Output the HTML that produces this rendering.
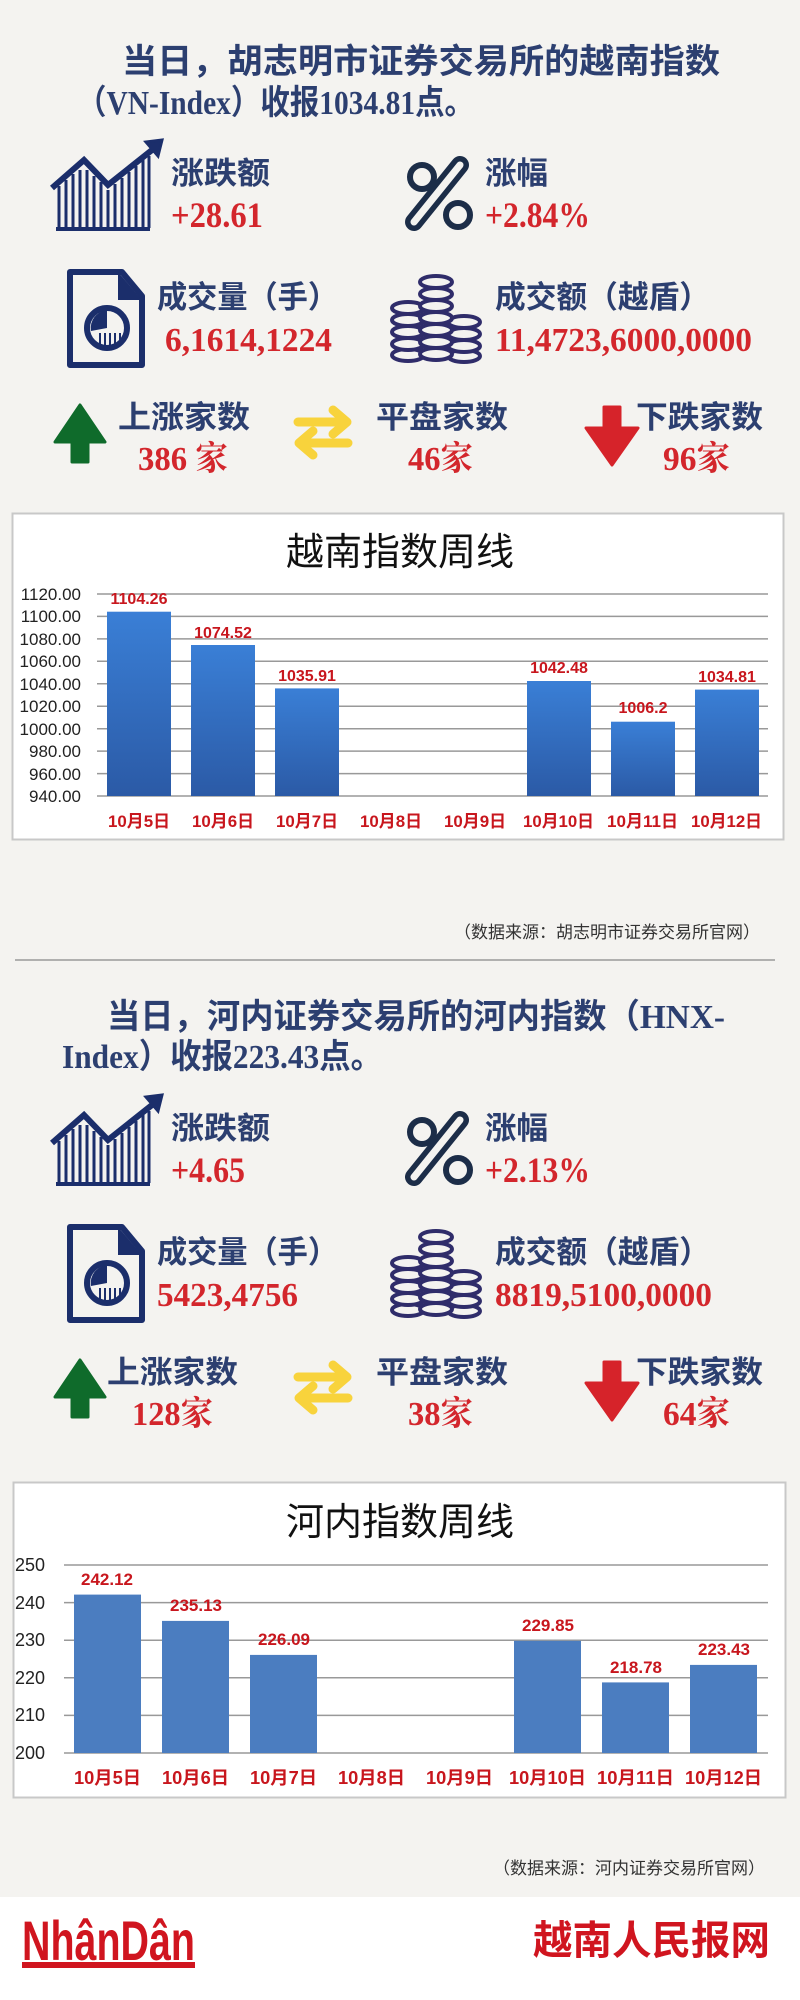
<!DOCTYPE html>
<html><head><meta charset="utf-8"><style>
html,body{margin:0;padding:0;background:#f4f3f0;}
svg{display:block}
.cn{font-family:"Liberation Sans","Noto Sans CJK SC",sans-serif;font-weight:bold;fill:#2c3f70}
.num{font-family:"Liberation Serif","Noto Serif CJK SC",serif;font-weight:bold;fill:#d3262c}
.ser{font-family:"Liberation Serif",serif;font-weight:bold}
.ax{font-family:"Liberation Sans","Noto Sans CJK SC",sans-serif;fill:#222}
.lab{font-family:"Liberation Sans","Noto Sans CJK SC",sans-serif;font-weight:bold;fill:#c8161d}
.src{font-family:"Liberation Sans","Noto Sans CJK SC",sans-serif;fill:#333}
</style></head><body>
<svg width="800" height="2000" viewBox="0 0 800 2000" xmlns="http://www.w3.org/2000/svg">
<defs>
<linearGradient id="bg1" x1="0" y1="0" x2="0" y2="1"><stop offset="0" stop-color="#3a7fd6"/><stop offset="1" stop-color="#2b5aa6"/></linearGradient>
<g id="icChart">
  <path d="M52 188 L84 160 L108 185 L152 150" fill="none" stroke="#1b2e6b" stroke-width="6" stroke-linejoin="miter"/>
  <path d="M146 142 L162 140 L158 156 Z" fill="#1b2e6b" stroke="#1b2e6b" stroke-width="3"/>
  <rect x="56" y="227" width="94" height="4" fill="#1b2e6b"/>
  <g stroke="#1b2e6b" stroke-width="3">
    <line x1="59" y1="186" x2="59" y2="228"/><line x1="66" y1="180" x2="66" y2="228"/><line x1="73" y1="174" x2="73" y2="228"/><line x1="80" y1="170" x2="80" y2="228"/><line x1="87" y1="170" x2="87" y2="228"/><line x1="94" y1="176" x2="94" y2="228"/><line x1="101" y1="182" x2="101" y2="228"/><line x1="108" y1="190" x2="108" y2="228"/><line x1="115" y1="184" x2="115" y2="228"/><line x1="122" y1="178" x2="122" y2="228"/><line x1="129" y1="172" x2="129" y2="228"/><line x1="136" y1="166" x2="136" y2="228"/><line x1="143" y1="160" x2="143" y2="228"/><line x1="149" y1="156" x2="149" y2="228"/>
  </g>
</g>
<g id="icPct" fill="none" stroke="#1c2d48" stroke-width="6">
  <circle cx="422" cy="177" r="12"/><circle cx="458" cy="215" r="12"/>
  <path d="M460 165 L414 222" stroke-width="18" stroke-linecap="round"/>
  <path d="M460 165 L414 222" stroke="#f4f3f0" stroke-width="7" stroke-linecap="round"/>
</g>
<g id="icDoc">
  <path d="M70 272 L122 272 L142 296 L142 365 L70 365 Z" fill="none" stroke="#1b2e6b" stroke-width="6" stroke-linejoin="round"/>
  <path d="M118 272 L118 300 L142 300 Z" fill="#1b2e6b"/>
  <circle cx="107" cy="328" r="20" fill="none" stroke="#1b2e6b" stroke-width="6"/>
  <path d="M107 328 L107 310 A18 18 0 0 0 91 331 Z" fill="#1b2e6b"/>
  <g stroke="#1b2e6b" stroke-width="2"><line x1="100" y1="333" x2="100" y2="346"/><line x1="105" y1="333" x2="105" y2="347"/><line x1="110" y1="333" x2="110" y2="347"/><line x1="115" y1="333" x2="115" y2="345"/><line x1="120" y1="333" x2="120" y2="340"/></g>
</g>
<g id="coin"><ellipse cx="0" cy="0" rx="16" ry="6" fill="#f4f3f0" stroke="#2f2c6a" stroke-width="4"/></g>
<g id="icCoins">
  <use href="#coin" x="408" y="355"/><use href="#coin" x="408" y="344"/><use href="#coin" x="408" y="332"/><use href="#coin" x="408" y="320"/><use href="#coin" x="408" y="308"/>
  <use href="#coin" x="464" y="356"/><use href="#coin" x="464" y="346"/><use href="#coin" x="464" y="334"/><use href="#coin" x="464" y="322"/>
  <use href="#coin" x="436" y="354"/><use href="#coin" x="436" y="342"/><use href="#coin" x="436" y="330"/><use href="#coin" x="436" y="318"/><use href="#coin" x="436" y="306"/><use href="#coin" x="436" y="294"/><use href="#coin" x="436" y="282"/>
</g>
<g id="icUp"><path d="M80 405 L105 442 L88 442 L88 462 L72 462 L72 442 L55 442 Z" fill="#0f6b2b" stroke="#0f6b2b" stroke-width="3" stroke-linejoin="round"/></g>
<g id="icSw" stroke="#f8d33c" stroke-width="9" fill="none" stroke-linecap="round" stroke-linejoin="round">
  <path d="M298 422 L345 422 M333 410 L347 422 L333 434"/><path d="M348 443 L301 443 M313 431 L299 443 L313 455"/>
</g>
<g id="icDn"><path d="M612 465 L638 428 L620 428 L620 407 L604 407 L604 428 L586 428 Z" fill="#d6232a" stroke="#d6232a" stroke-width="3" stroke-linejoin="round"/></g>
</defs>

<text class="cn" x="122" y="73" font-size="34" textLength="598" lengthAdjust="spacingAndGlyphs">当日，胡志明市证券交易所的越南指数</text>
<text class="cn" x="77" y="114" font-size="34" textLength="397" lengthAdjust="spacingAndGlyphs">（<tspan class="ser">VN-Index</tspan>）收报<tspan class="ser">1034.81</tspan>点。</text>

<use href="#icChart"/><use href="#icPct"/><use href="#icDoc"/><use href="#icCoins"/><use href="#icUp"/><use href="#icSw"/><use href="#icDn"/>
<text class="cn" x="171" y="184" font-size="31" textLength="99" lengthAdjust="spacingAndGlyphs">涨跌额</text>
<text class="num" x="171" y="227" font-size="36" textLength="92" lengthAdjust="spacingAndGlyphs">+28.61</text>
<text class="cn" x="485" y="184" font-size="31" textLength="63" lengthAdjust="spacingAndGlyphs">涨幅</text>
<text class="num" x="485" y="227" font-size="36" textLength="105" lengthAdjust="spacingAndGlyphs">+2.84%</text>
<text class="cn" x="157" y="308" font-size="31" textLength="181" lengthAdjust="spacingAndGlyphs">成交量（手）</text>
<text class="num" x="165" y="351" font-size="34" textLength="167" lengthAdjust="spacingAndGlyphs">6,1614,1224</text>
<text class="cn" x="495" y="308" font-size="31" textLength="215" lengthAdjust="spacingAndGlyphs">成交额（越盾）</text>
<text class="num" x="495" y="351" font-size="34" textLength="257" lengthAdjust="spacingAndGlyphs">11,4723,6000,0000</text>
<text class="cn" x="118" y="428" font-size="31" textLength="132" lengthAdjust="spacingAndGlyphs">上涨家数</text>
<text class="num" x="138" y="470" font-size="34" textLength="90" lengthAdjust="spacingAndGlyphs">386 家</text>
<text class="cn" x="376" y="428" font-size="31" textLength="132" lengthAdjust="spacingAndGlyphs">平盘家数</text>
<text class="num" x="408" y="470" font-size="34" textLength="65" lengthAdjust="spacingAndGlyphs">46家</text>
<text class="cn" x="636" y="428" font-size="31" textLength="127" lengthAdjust="spacingAndGlyphs">下跌家数</text>
<text class="num" x="663" y="470" font-size="34" textLength="67" lengthAdjust="spacingAndGlyphs">96家</text>

<rect x="12.5" y="513.5" width="771" height="326" fill="#fff" stroke="#c8c8c8" stroke-width="2"/>
<text x="400" y="565" text-anchor="middle" font-family="Liberation Sans,Noto Sans CJK SC,sans-serif" font-size="38" fill="#111">越南指数周线</text>
<g stroke="#999" stroke-width="1.5">
<line x1="97" y1="594" x2="768" y2="594"/><line x1="97" y1="616.4" x2="768" y2="616.4"/><line x1="97" y1="638.9" x2="768" y2="638.9"/><line x1="97" y1="661.3" x2="768" y2="661.3"/><line x1="97" y1="683.8" x2="768" y2="683.8"/><line x1="97" y1="706.2" x2="768" y2="706.2"/><line x1="97" y1="728.7" x2="768" y2="728.7"/><line x1="97" y1="751.1" x2="768" y2="751.1"/><line x1="97" y1="773.6" x2="768" y2="773.6"/><line x1="97" y1="796" x2="768" y2="796"/>
</g>
<g class="ax" font-size="17" text-anchor="end">
<text x="81" y="600">1120.00</text><text x="81" y="622">1100.00</text><text x="81" y="645">1080.00</text><text x="81" y="667">1060.00</text><text x="81" y="690">1040.00</text><text x="81" y="712">1020.00</text><text x="81" y="735">1000.00</text><text x="81" y="757">980.00</text><text x="81" y="780">960.00</text><text x="81" y="802">940.00</text>
</g>
<g fill="url(#bg1)">
<rect x="107" y="611.7" width="64" height="184.3"/><rect x="191" y="645" width="64" height="151"/><rect x="275" y="688.4" width="64" height="107.6"/>
<rect x="527" y="681" width="64" height="115"/><rect x="611" y="721.7" width="64" height="74.3"/><rect x="695" y="689.6" width="64" height="106.4"/>
</g>
<g class="lab" font-size="16" text-anchor="middle">
<text x="139" y="604">1104.26</text><text x="223" y="638">1074.52</text><text x="307" y="681">1035.91</text><text x="559" y="673">1042.48</text><text x="643" y="713">1006.2</text><text x="727" y="682">1034.81</text>
</g>
<g class="lab" font-size="17">
<text x="108" y="827" textLength="62" lengthAdjust="spacingAndGlyphs">10月5日</text><text x="192" y="827" textLength="62" lengthAdjust="spacingAndGlyphs">10月6日</text><text x="276" y="827" textLength="62" lengthAdjust="spacingAndGlyphs">10月7日</text><text x="360" y="827" textLength="62" lengthAdjust="spacingAndGlyphs">10月8日</text><text x="444" y="827" textLength="62" lengthAdjust="spacingAndGlyphs">10月9日</text><text x="523" y="827" textLength="71" lengthAdjust="spacingAndGlyphs">10月10日</text><text x="607" y="827" textLength="71" lengthAdjust="spacingAndGlyphs">10月11日</text><text x="691" y="827" textLength="71" lengthAdjust="spacingAndGlyphs">10月12日</text>
</g>
<text class="src" x="760" y="938" font-size="17" text-anchor="end">（数据来源：胡志明市证券交易所官网）</text>
<line x1="15" y1="960" x2="775" y2="960" stroke="#999" stroke-width="1.5"/>

<text class="cn" x="107" y="1028" font-size="34" textLength="618" lengthAdjust="spacingAndGlyphs">当日，河内证券交易所的河内指数（<tspan class="ser">HNX-</tspan></text>
<text class="cn" x="62" y="1068" font-size="34" textLength="320" lengthAdjust="spacingAndGlyphs"><tspan class="ser">Index</tspan>）收报<tspan class="ser">223.43</tspan>点。</text>

<g transform="translate(0,955)">
<use href="#icChart"/><use href="#icPct"/><use href="#icDoc"/><use href="#icCoins"/><use href="#icUp"/><use href="#icSw"/><use href="#icDn"/>
<text class="cn" x="171" y="184" font-size="31" textLength="99" lengthAdjust="spacingAndGlyphs">涨跌额</text>
<text class="num" x="171" y="227" font-size="36" textLength="74" lengthAdjust="spacingAndGlyphs">+4.65</text>
<text class="cn" x="485" y="184" font-size="31" textLength="63" lengthAdjust="spacingAndGlyphs">涨幅</text>
<text class="num" x="485" y="227" font-size="36" textLength="105" lengthAdjust="spacingAndGlyphs">+2.13%</text>
<text class="cn" x="157" y="308" font-size="31" textLength="181" lengthAdjust="spacingAndGlyphs">成交量（手）</text>
<text class="num" x="157" y="351" font-size="34" textLength="141" lengthAdjust="spacingAndGlyphs">5423,4756</text>
<text class="cn" x="495" y="308" font-size="31" textLength="215" lengthAdjust="spacingAndGlyphs">成交额（越盾）</text>
<text class="num" x="495" y="351" font-size="34" textLength="217" lengthAdjust="spacingAndGlyphs">8819,5100,0000</text>
<text class="cn" x="107" y="428" font-size="31" textLength="131" lengthAdjust="spacingAndGlyphs">上涨家数</text>
<text class="num" x="132" y="470" font-size="34" textLength="81" lengthAdjust="spacingAndGlyphs">128家</text>
<text class="cn" x="376" y="428" font-size="31" textLength="132" lengthAdjust="spacingAndGlyphs">平盘家数</text>
<text class="num" x="408" y="470" font-size="34" textLength="65" lengthAdjust="spacingAndGlyphs">38家</text>
<text class="cn" x="636" y="428" font-size="31" textLength="127" lengthAdjust="spacingAndGlyphs">下跌家数</text>
<text class="num" x="663" y="470" font-size="34" textLength="67" lengthAdjust="spacingAndGlyphs">64家</text>
</g>

<rect x="13.5" y="1482.5" width="772" height="315" fill="#fff" stroke="#c8c8c8" stroke-width="2"/>
<text x="400" y="1535" text-anchor="middle" font-family="Liberation Sans,Noto Sans CJK SC,sans-serif" font-size="38" fill="#111">河内指数周线</text>
<g stroke="#999" stroke-width="1.5">
<line x1="64" y1="1565" x2="768" y2="1565"/><line x1="64" y1="1602.6" x2="768" y2="1602.6"/><line x1="64" y1="1640.2" x2="768" y2="1640.2"/><line x1="64" y1="1677.8" x2="768" y2="1677.8"/><line x1="64" y1="1715.4" x2="768" y2="1715.4"/><line x1="64" y1="1753" x2="768" y2="1753"/>
</g>
<g class="ax" font-size="18">
<text x="15" y="1571">250</text><text x="15" y="1609">240</text><text x="15" y="1646">230</text><text x="15" y="1684">220</text><text x="15" y="1721">210</text><text x="15" y="1759">200</text>
</g>
<g fill="#4b7dc0">
<rect x="74" y="1594.6" width="67" height="158.4"/><rect x="162" y="1620.9" width="67" height="132.1"/><rect x="250" y="1654.9" width="67" height="98.1"/>
<rect x="514" y="1640.8" width="67" height="112.2"/><rect x="602" y="1682.4" width="67" height="70.6"/><rect x="690" y="1664.9" width="67" height="88.1"/>
</g>
<g class="lab" font-size="17" text-anchor="middle">
<text x="107" y="1585">242.12</text><text x="196" y="1611">235.13</text><text x="284" y="1645">226.09</text><text x="548" y="1631">229.85</text><text x="636" y="1673">218.78</text><text x="724" y="1655">223.43</text>
</g>
<g class="lab" font-size="18">
<text x="74" y="1784" textLength="67" lengthAdjust="spacingAndGlyphs">10月5日</text><text x="162" y="1784" textLength="67" lengthAdjust="spacingAndGlyphs">10月6日</text><text x="250" y="1784" textLength="67" lengthAdjust="spacingAndGlyphs">10月7日</text><text x="338" y="1784" textLength="67" lengthAdjust="spacingAndGlyphs">10月8日</text><text x="426" y="1784" textLength="67" lengthAdjust="spacingAndGlyphs">10月9日</text><text x="509" y="1784" textLength="77" lengthAdjust="spacingAndGlyphs">10月10日</text><text x="597" y="1784" textLength="77" lengthAdjust="spacingAndGlyphs">10月11日</text><text x="685" y="1784" textLength="77" lengthAdjust="spacingAndGlyphs">10月12日</text>
</g>
<text class="src" x="765" y="1874" font-size="17" text-anchor="end">（数据来源：河内证券交易所官网）</text>

<rect x="0" y="1897" width="800" height="103" fill="#fff"/>
<text x="22" y="1960" font-family="Liberation Sans,sans-serif" font-weight="bold" font-size="56" fill="#d0151f" textLength="173" lengthAdjust="spacingAndGlyphs">NhânDân</text>
<rect x="22" y="1962" width="173" height="6" fill="#d0151f"/>
<text x="533" y="1954" font-family="Liberation Sans,Noto Sans CJK SC,sans-serif" font-weight="bold" font-size="40" fill="#d0151f" textLength="237" lengthAdjust="spacingAndGlyphs">越南人民报网</text>
</svg>
</body></html>
